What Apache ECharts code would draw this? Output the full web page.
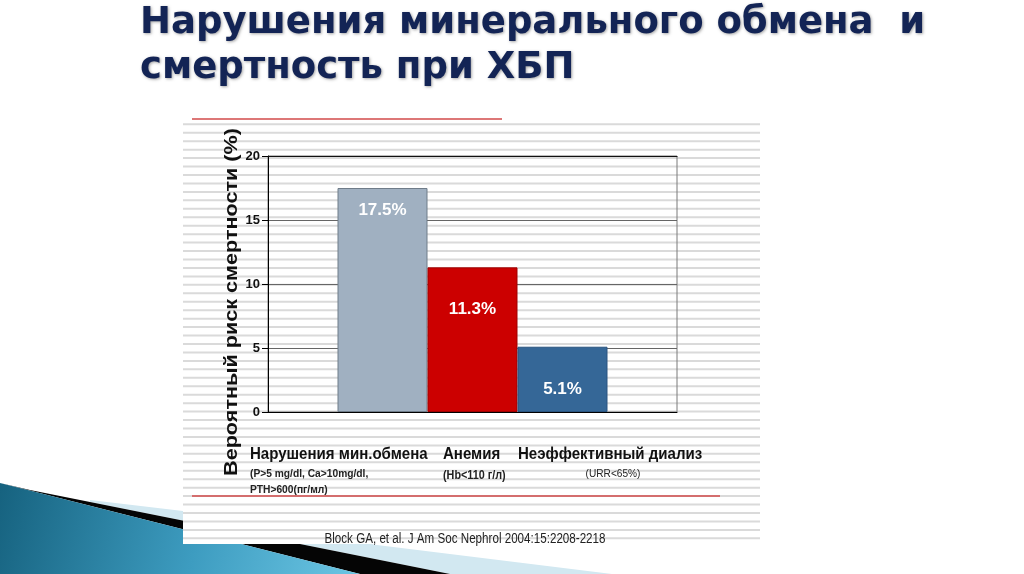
<!DOCTYPE html>
<html><head><meta charset="utf-8">
<script src="https://cdn.jsdelivr.net/npm/echarts@6/dist/echarts.min.js"></script>
<style>html,body{margin:0;padding:0;background:#fff}#c{width:1024px;height:574px}</style>
</head><body><div id="c"></div>
<script>
// ---- data ----
const titleLines = ['Нарушения минерального обмена  и', 'смертность при ХБП'];
const seriesNames = ['Нарушения мин.обмена', 'Анемия', 'Неэффективный диализ'];
const seriesValues = [17.5, 11.3, 5.1];
const valueLabels = ['17.5%', '11.3%', '5.1%'];
const seriesNotes = [['(P>5 mg/dl, Ca>10mg/dl,', 'PTH>600(пг/мл)'], ['(Hb<110 г/л)'], ['(URR<65%)']];
const yTicks = [0, 5, 10, 15, 20];
const yAxisTitle = 'Вероятный риск смертности (%)';
const citation = 'Block GA, et al. J Am Soc Nephrol 2004:15:2208-2218';

// ---- styles ----
const barColors = ['#a0b0c1', '#cc0000', '#356797'];
const barBorders = ['#6f7c89', '#a00000', '#2a5580'];
const labelDist = [13.5, 33.5, 34.5];
const SANS = "'Liberation Sans',Arial,sans-serif";

const chart = echarts.init(document.getElementById('c'), null, {renderer: 'canvas'});

const graphics = [];
// slide decoration bottom-left
graphics.push({type:'polygon', z:-30, shape:{points:[[90,500],[183,511],[377,545],[612,574],[450,574],[90,502]]}, style:{fill:'#d2e8f1'}});
graphics.push({type:'polygon', z:-29, shape:{points:[[30,490],[450,574],[360,574],[0,483]]}, style:{fill:'#050505'}});
graphics.push({type:'polygon', z:-28, shape:{points:[[0,483],[360,574],[0,574]]}, style:{fill:new echarts.graphic.LinearGradient(0,0,1,1,[{offset:0,color:'#16627f'},{offset:0.55,color:'#3d9cc0'},{offset:1,color:'#6cc6e4'}])}});
// pasted chart picture area
graphics.push({type:'rect', z:-20, shape:{x:183,y:117,width:577,height:427}, style:{fill:'#ffffff'}});
for (let y = 124.3; y <= 543; y += 8.45) {
  graphics.push({type:'line', z:-19, shape:{x1:183,y1:y,x2:760,y2:y}, style:{stroke:'#dadada', lineWidth:2}});
}
graphics.push({type:'line', z:-18, shape:{x1:192,y1:119,x2:502,y2:119}, style:{stroke:'#d24a4a', lineWidth:1.5}});
graphics.push({type:'line', z:-18, shape:{x1:192,y1:496,x2:720,y2:496}, style:{stroke:'#d24a4a', lineWidth:1.5}});
// y axis title
graphics.push({type:'text', z:5, x:232, y:302, rotation:Math.PI/2, scaleX:1.2,
  style:{text:yAxisTitle, font:"bold 18px "+SANS, fill:'#111', align:'center', verticalAlign:'middle'}});
// category labels
const catX = [250, 443, 518];
seriesNames.forEach((n,i)=>{
  graphics.push({type:'text', z:5, x:catX[i], y:455, scaleX:0.94, style:{text:n, font:"bold 16px "+SANS, fill:'#111', align:'left', verticalAlign:'middle'}});
});
graphics.push({type:'text', z:5, x:250, y:474, scaleX:0.93, style:{text:seriesNotes[0][0], font:"bold 11px "+SANS, fill:'#222', verticalAlign:'middle'}});
graphics.push({type:'text', z:5, x:250, y:490, scaleX:0.93, style:{text:seriesNotes[0][1], font:"bold 11px "+SANS, fill:'#222', verticalAlign:'middle'}});
graphics.push({type:'text', z:5, x:443, y:476, scaleX:0.9, style:{text:seriesNotes[1][0], font:"bold 12px "+SANS, fill:'#222', verticalAlign:'middle'}});
graphics.push({type:'text', z:5, x:613, y:474, scaleX:0.92, style:{text:seriesNotes[2][0], font:"11px "+SANS, fill:'#222', align:'center', verticalAlign:'middle'}});
graphics.push({type:'text', z:5, x:465, y:539, scaleX:0.83, style:{text:citation, font:"14px "+SANS, fill:'#222', align:'center', verticalAlign:'middle'}});

chart.setOption({
  animation:false,
  backgroundColor:'#ffffff',
  title:{
    text: titleLines.join('\n'), left:140, top:1, padding:0,
    textStyle:{fontFamily:"'DejaVu Sans',sans-serif", fontWeight:'bold', fontSize:37, lineHeight:45, color:'#132455',
      textShadowColor:'rgba(0,0,0,0.35)', textShadowBlur:3, textShadowOffsetX:1, textShadowOffsetY:1}
  },
  graphic: graphics,
  grid:{left:268, top:156, width:409, height:256, show:true, borderColor:'#7a7a7a', borderWidth:1, backgroundColor:'transparent'},
  xAxis:[
    {type:'category', data:[''], axisLine:{lineStyle:{color:'#000', width:1}}, axisTick:{show:false}, axisLabel:{show:false}},
    {type:'category', data:[''], position:'top', axisLine:{lineStyle:{color:'#111', width:1}}, axisTick:{show:false}, axisLabel:{show:false}}
  ],
  yAxis:{type:'value', min:yTicks[0], max:yTicks[yTicks.length-1], interval:5,
    axisLine:{show:true, lineStyle:{color:'#000'}},
    axisTick:{show:true, length:6, lineStyle:{color:'#000'}},
    axisLabel:{margin:8, fontFamily:SANS, fontSize:13, fontWeight:'bold', color:'#111'},
    splitLine:{show:true, lineStyle:{color:'#666', width:1}}
  },
  series: seriesNames.map((n,i)=>({
    type:'bar', name:n, xAxisIndex:0, data:[seriesValues[i]], barWidth:90, barGap:'0%',
    itemStyle:{color:barColors[i], borderColor:barBorders[i], borderWidth:1},
    label:{show:true, position:'insideTop', distance:labelDist[i], formatter:()=>valueLabels[i],
      fontFamily:SANS, fontSize:17, fontWeight:'bold', color:'#ffffff'}
  }))
});
</script></body></html>
